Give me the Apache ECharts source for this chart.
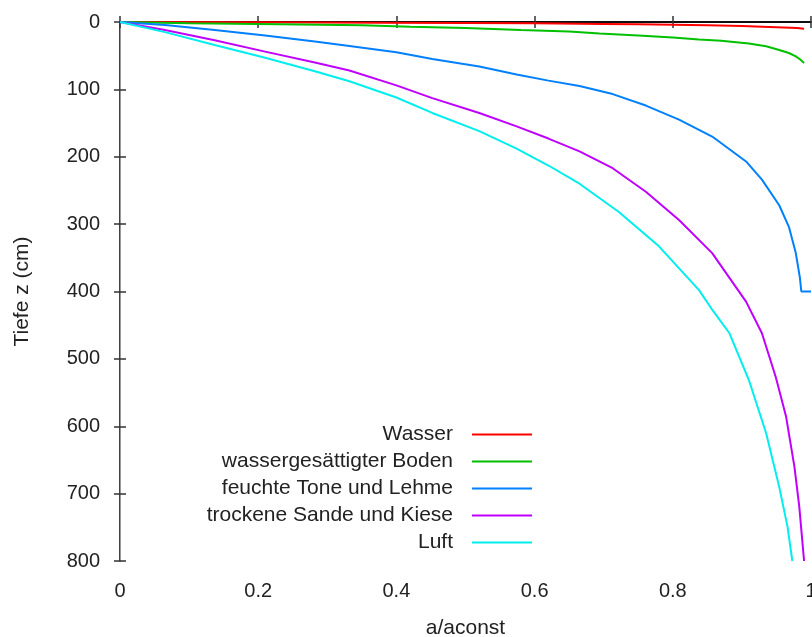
<!DOCTYPE html>
<html>
<head>
<meta charset="utf-8">
<script src="https://cdn.jsdelivr.net/npm/echarts@6/dist/echarts.min.js"></script>
<style>html,body{margin:0;padding:0;background:#fff;}#c{width:812px;height:637px;}</style>
</head>
<body>
<div id="c"></div>
<script>
// Series names
const seriesNames = ['Wasser', 'wassergesättigter Boden', 'feuchte Tone und Lehme', 'trockene Sande und Kiese', 'Luft'];
const seriesColors = ['#ff0000', '#00c000', '#0080ff', '#c000ff', '#00eeee'];

// [a/aconst, depth z in cm]
const wasser = [[0,0],[0.2,0.5],[0.37,1],[0.5,1.5],[0.6,2],[0.7,3],[0.75,3.5],[0.8,4],[0.85,5],[0.9,6],[0.93,7],[0.96,8],[0.98,9],[0.99,10]];
const boden = [[0,0],[0.1,2],[0.2,3],[0.35,5],[0.42,7],[0.5,9],[0.58,12],[0.65,14],[0.694,17],[0.75,20],[0.8,23],[0.838,26],[0.87,28],[0.91,32],[0.935,36],[0.954,41.5],[0.968,46],[0.978,51],[0.985,56],[0.99,61]];
const tone = [[0,0],[0.065,4.5],[0.137,12],[0.21,20],[0.282,29],[0.332,35.6],[0.4,45],[0.452,55],[0.52,66],[0.574,78],[0.62,87],[0.665,95],[0.713,107],[0.761,124],[0.809,145],[0.857,170],[0.906,207],[0.929,234],[0.954,272],[0.968,304],[0.978,343],[0.984,380],[0.986,400],[1.0,400]];
const sande = [[0,0],[0.065,12],[0.137,27],[0.21,44],[0.282,60],[0.332,72],[0.4,94],[0.452,113],[0.52,135],[0.574,155],[0.62,173],[0.665,192],[0.713,217],[0.761,252],[0.809,294],[0.857,343],[0.906,415],[0.929,462],[0.949,527],[0.964,586],[0.976,660],[0.983,719],[0.99,800]];
const luft = [[0,0],[0.065,15],[0.137,34],[0.21,53],[0.282,73],[0.332,88],[0.4,112],[0.452,135],[0.52,162],[0.574,188],[0.62,213],[0.665,240],[0.722,282],[0.78,333],[0.838,398],[0.857,427],[0.882,462],[0.91,531],[0.935,610],[0.954,690],[0.966,749],[0.973,800]];

const xTicks = {min: 0, max: 1, interval: 0.2};
const yTicks = {min: 0, max: 800, interval: 100};

const allData = [wasser, boden, tone, sande, luft];

const chart = echarts.init(document.getElementById('c'));
const font = 'Liberation Sans, Arial, sans-serif';
const axisLine = {show: true, lineStyle: {color: '#000', width: 1.5}};
const tick = {show: true, inside: true, length: 6, lineStyle: {color: '#333', width: 1.5}};

chart.setOption({
  animation: false,
  backgroundColor: '#fff',
  grid: {left: 120, top: 22, right: 1, bottom: 76, outerBoundsMode: 'none', containLabel: false},
  legend: {
    orient: 'vertical',
    align: 'right',
    right: 280,
    top: 424,
    padding: 0,
    itemWidth: 60,
    itemHeight: 2,
    itemGap: 6,
    icon: 'rect',
    selectedMode: false,
    textStyle: {fontFamily: font, fontSize: 21, color: '#222', lineHeight: 21, padding: [0, 14, 0, 0]},
    data: seriesNames
  },
  xAxis: [
    {type: 'value', position: 'bottom', min: xTicks.min, max: xTicks.max, interval: xTicks.interval,
     name: 'a/aconst', nameLocation: 'middle', nameGap: 57,
     nameTextStyle: {fontFamily: font, fontSize: 21, color: '#222'},
     axisLine: axisLine, axisTick: tick, splitLine: {show: false},
     axisLabel: {fontFamily: font, fontSize: 20, color: '#222', margin: 20}},
    {type: 'value', position: 'top', min: xTicks.min, max: xTicks.max, interval: xTicks.interval,
     axisLine: axisLine, axisTick: tick, splitLine: {show: false}, axisLabel: {show: false}}
  ],
  yAxis: [
    {type: 'value', inverse: true, position: 'left', min: yTicks.min, max: yTicks.max, interval: yTicks.interval,
     name: 'Tiefe z (cm)', nameLocation: 'middle', nameGap: 87, nameRotate: 90,
     nameTextStyle: {fontFamily: font, fontSize: 21, color: '#222'},
     axisLine: axisLine, axisTick: tick, splitLine: {show: false},
     axisLabel: {fontFamily: font, fontSize: 20, color: '#222', margin: 20}},
    {type: 'value', inverse: true, position: 'right', min: yTicks.min, max: yTicks.max, interval: yTicks.interval,
     axisLine: {show: true, lineStyle: {color: '#999', width: 1}}, axisTick: tick, splitLine: {show: false}, axisLabel: {show: false}}
  ],
  series: allData.map((d, i) => ({
    name: seriesNames[i],
    type: 'line',
    xAxisIndex: 0,
    yAxisIndex: 0,
    data: d,
    showSymbol: false,
    symbol: 'none',
    smooth: false,
    clip: true,
    lineStyle: {color: seriesColors[i], width: 2},
    itemStyle: {color: seriesColors[i]},
    z: 2 + i
  }))
});
</script>
</body>
</html>
